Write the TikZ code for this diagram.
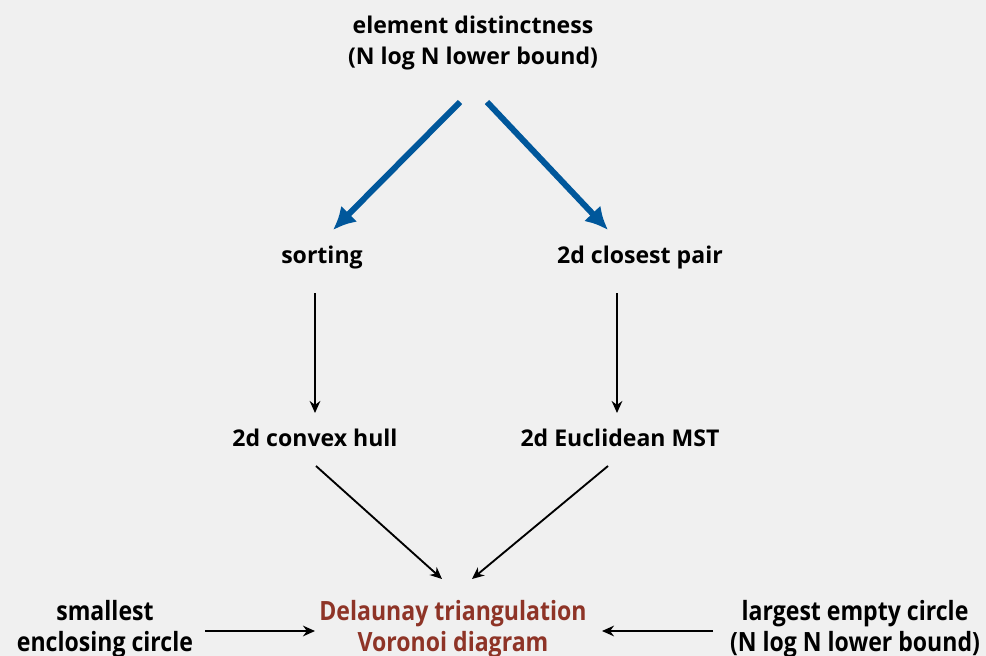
\documentclass[tikz,border=0pt]{standalone}
\usepackage{fontspec}
\setmainfont{Open Sans}
\usetikzlibrary{arrows.meta}
\definecolor{bg}{HTML}{F0F0F0}
\definecolor{dblue}{HTML}{00579B}
\definecolor{dred}{HTML}{8E3427}
\newcommand{\tall}[1]{\scalebox{1}[1.15]{#1}}
\begin{document}
\begin{tikzpicture}[x=0.75pt,y=-0.75pt,
  lbl/.style={font=\fontsize{17.3}{23.2}\selectfont\bfseries, align=center, inner sep=0pt},
  bigarrow/.style={draw=dblue, line width=4.5pt, -{Latex[length=17pt,width=17pt]}, shorten >=0pt},
  thinarrow/.style={draw=black, line width=1.4pt, -{Stealth[length=9pt,width=8pt]}}]
\fill[bg] (0,0) rectangle (986,656);
\useasboundingbox (0,0) rectangle (986,656);
\node[lbl] (ed) at (473,43) {element distinctness\\(N log N lower bound)};
\node[lbl] (sort) at (322,258) {sorting};
\node[lbl] (cp) at (640,258) {2d closest pair};
\node[lbl] (hull) at (315,438) {2d convex hull};
\node[lbl] (mst) at (620,438) {2d Euclidean MST};
\node[lbl, text=dred] (del) at (453,629) {\tall{Delaunay triangulation}\\\tall{Voronoi diagram}};
\node[lbl] (sec) at (105,629) {\tall{smallest}\\\tall{enclosing circle}};
\node[lbl] (lec) at (855,629) {\tall{largest empty circle}\\\tall{(N log N lower bound)}};
\coordinate (b1s) at (460,102); \coordinate (b1e) at (333,230);
\coordinate (b2s) at (487,102); \coordinate (b2e) at (608,230);
\draw[bigarrow] (b1s) -- (b1e);
\draw[bigarrow] (b2s) -- (b2e);
\coordinate (a1s) at (315,293); \coordinate (a1e) at (315,413);
\coordinate (a2s) at (617,293); \coordinate (a2e) at (617,413);
\draw[thinarrow] (a1s) -- (a1e);
\draw[thinarrow] (a2s) -- (a2e);
\coordinate (a3s) at (316,466); \coordinate (a3e) at (442,579);
\coordinate (a4s) at (608,466); \coordinate (a4e) at (472,579);
\draw[thinarrow] (a3s) -- (a3e);
\draw[thinarrow] (a4s) -- (a4e);
\coordinate (a5s) at (205,631); \coordinate (a5e) at (315,631);
\coordinate (a6s) at (713,631); \coordinate (a6e) at (602,631);
\draw[thinarrow] (a5s) -- (a5e);
\draw[thinarrow] (a6s) -- (a6e);
\end{tikzpicture}
\end{document}
